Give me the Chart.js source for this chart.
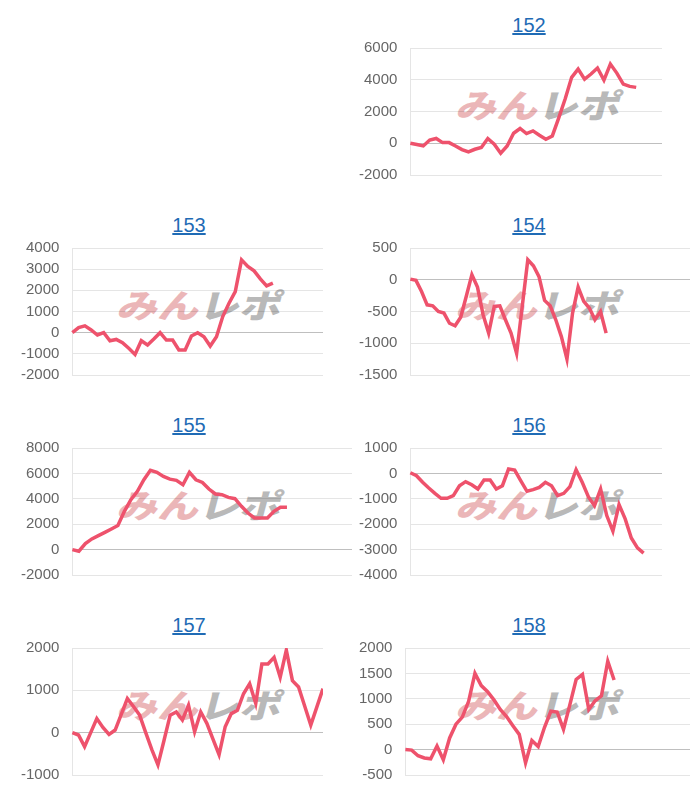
<!DOCTYPE html>
<html>
<head>
<meta charset="utf-8">
<script src="https://cdn.jsdelivr.net/npm/chart.js@4.4.1/dist/chart.umd.min.js"></script>
<style>
  body { margin: 0; background: #fff; width: 700px; height: 800px; position: relative; overflow: hidden;
         font-family: Arial, "Liberation Sans", Helvetica, sans-serif; }
  .title { position: absolute; width: 120px; text-align: center; font-size: 20px; line-height: 24px; }
  .title a { color: #1f6bb5; text-decoration: underline; }
  .mark { position: absolute; font-family: "Noto Sans CJK JP", sans-serif; font-weight: 900; font-size: 33px;
          line-height: 33px; white-space: nowrap; transform-origin: 0 0; transform: scaleX(1.24) skewX(-12deg); }
  .mark .a { color: #ebb6b8; }
  .mark .b { color: #b9b9b9; }
  canvas { position: absolute; }
</style>
</head>
<body>
<script>
// values
const titles = ['152', '153', '154', '155', '156', '157', '158'];

const series152 = [0, -80, -170, 200, 300, 40, 40, -170, -400, -550, -380, -270, 300, -60, -630, -170,
  630, 930, 610, 780, 500, 250, 460, 1600, 2800, 4150, 4670, 4040, 4360, 4740, 3980, 4990, 4420, 3730, 3580, 3520];
const series153 = [0, 240, 320, 130, -110, 0, -380, -320, -470, -740, -1030, -380, -580, -300, 0, -350,
  -350, -820, -820, -160, 0, -190, -630, -190, 760, 1390, 1940, 3440, 3130, 2920, 2540, 2210, 2340];
const series154 = [10, -10, -185, -395, -410, -500, -525, -685, -725, -590, -260, 80, -115, -550, -840, -420,
  -410, -630, -840, -1160, -420, 315, 220, 50, -325, -410, -630, -895, -1250, -525, -115, -340, -445, -630, -500, -840];
const series155 = [0, -130, 470, 840, 1100, 1360, 1620, 1890, 3010, 3930, 4590, 5500, 6240, 6080, 5760, 5550,
  5450, 5110, 6080, 5500, 5290, 4770, 4380, 4320, 4110, 4010, 3410, 2880, 2490, 2490, 2490, 3010, 3330, 3330];
const series156 = [25, -90, -350, -575, -785, -980, -980, -875, -485, -325, -445, -615, -260, -260, -615, -485,
  170, 130, -290, -705, -640, -550, -350, -485, -875, -785, -520, 145, -350, -915, -1270, -615, -1660, -2270,
  -1230, -1790, -2540, -2930, -3140];
const series157 = [0, -55, -330, 0, 335, 125, -40, 62, 430, 805, 620, 415, 0, -400, -760, -180, 415, 490, 300,
  650, 23, 490, 220, -150, -520, 140, 450, 530, 920, 1155, 690, 1625, 1625, 1780, 1310, 1950, 1230, 1080, 630,
  180, 610, 1040];
const series158 = [0, -10, -120, -165, -180, 70, -200, 230, 500, 640, 950, 1500, 1260, 1140, 980, 790, 650, 470,
  300, -260, 180, 60, 440, 755, 740, 400, 880, 1380, 1480, 790, 960, 1060, 1740, 1370];

// number of x slots on each chart (x labels are hidden)
const axisLengths = [40, 41, 51, 44, 42, 42, 46];
// y axis ticks
const yMins = [-2000, -2000, -1500, -2000, -4000, -1000, -500];
const yMaxs = [6000, 4000, 500, 8000, 1000, 2000, 2000];
const ySteps = [2000, 1000, 500, 2000, 1000, 1000, 500];

const allSeries = [series152, series153, series154, series155, series156, series157, series158];

// page layout: column, row, right edge of the plot
const panels = [
  {col: 1, row: 0, right: 662},
  {col: 0, row: 1, right: 323},
  {col: 1, row: 1, right: 690},
  {col: 0, row: 2, right: 352},
  {col: 1, row: 2, right: 662},
  {col: 0, row: 3, right: 323},
  {col: 1, row: 3, right: 690},
];
const colLeft = [21, 359];
const titleCenter = [189, 529];
const markLeft = [124, 463];

Chart.defaults.font.family = 'Arial, "Liberation Sans", Helvetica, sans-serif';
Chart.defaults.color = '#666';

panels.forEach((p, i) => {
  const top = p.row * 200;

  const t = document.createElement('div');
  t.className = 'title';
  t.style.left = (titleCenter[p.col] - 60) + 'px';
  t.style.top = (top + 13) + 'px';
  t.innerHTML = '<a href="#">' + titles[i] + '</a>';
  document.body.appendChild(t);

  const m = document.createElement('div');
  m.className = 'mark';
  m.style.left = markLeft[p.col] + 'px';
  m.style.top = (top + 88) + 'px';
  m.innerHTML = '<span class="a">みん</span><span class="b">レポ</span>';
  document.body.appendChild(m);

  const cv = document.createElement('canvas');
  const left = colLeft[p.col];
  cv.width = p.right - left;
  cv.height = 145;
  cv.style.left = left + 'px';
  cv.style.top = (top + 39) + 'px';
  document.body.appendChild(cv);

  const labels = Array.from({length: axisLengths[i]}, (_, k) => String(k + 1));

  new Chart(cv, {
    type: 'line',
    data: {
      labels: labels,
      datasets: [{
        data: allSeries[i],
        borderColor: 'rgb(238, 82, 108)',
        borderWidth: 3.5,
        pointRadius: 0,
        tension: 0,
        fill: false,
      }],
    },
    options: {
      responsive: false,
      animation: false,
      devicePixelRatio: 1,
      layout: {padding: 0},
      plugins: {legend: {display: false}, tooltip: {enabled: false}},
      scales: {
        x: {display: false},
        y: {
          min: yMins[i],
          max: yMaxs[i],
          ticks: {
            stepSize: ySteps[i],
            autoSkip: false,
            padding: 0,
            font: {size: 15},
            color: '#666',
            callback: (v) => String(v),
          },
          grid: {
            drawTicks: true,
            tickLength: 13,
            tickColor: 'rgba(0,0,0,0)',
            color: (ctx) => (ctx.tick && ctx.tick.value === 0) ? 'rgba(0,0,0,0.25)' : 'rgba(0,0,0,0.1)',
          },
          border: {display: true, color: 'rgba(0,0,0,0.1)'},
        },
      },
    },
  });
});
</script>
</body>
</html>
